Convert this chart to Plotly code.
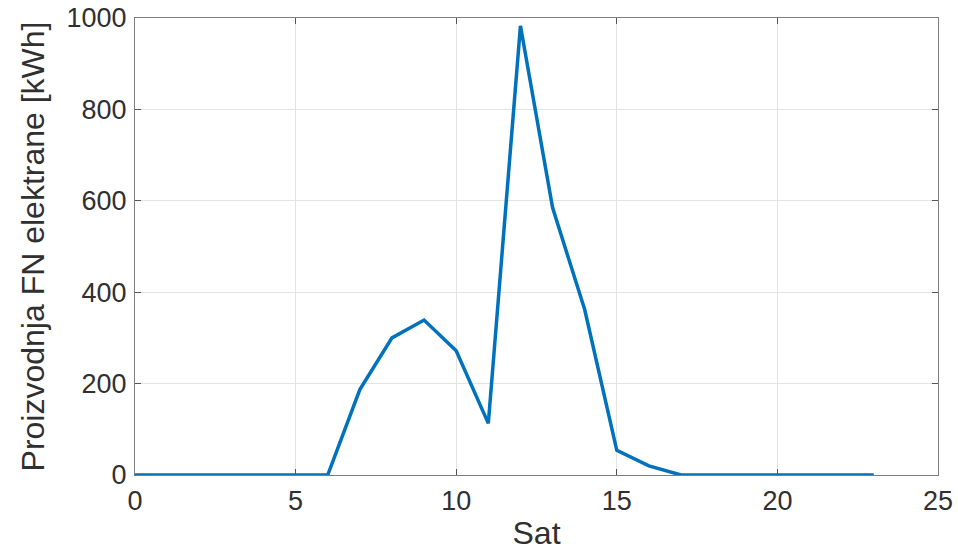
import plotly.graph_objects as go

hours = list(range(24))
production_kwh = [0, 0, 0, 0, 0, 0, 0, 187, 300, 339, 272, 113, 983, 585, 362, 54, 20, 0, 0, 0, 0, 0, 0, 0]
x_ticks = [0, 5, 10, 15, 20, 25]
y_ticks = [0, 200, 400, 600, 800, 1000]

fig = go.Figure()
fig.add_trace(go.Scatter(
    x=hours, y=production_kwh, mode="lines",
    line=dict(color="#0072BD", width=3.5),
    showlegend=False,
))

axis_common = dict(
    showline=True, linecolor="#7f7f7f", linewidth=1, mirror="ticks",
    ticks="inside", ticklen=6, tickcolor="#555555", tickwidth=1,
    showgrid=True, gridcolor="#e3e3e3", gridwidth=1, zeroline=False,
    automargin=False,
    tickfont=dict(family="Liberation Sans, Arial", size=27, color="#303030"),
    title_font=dict(family="Liberation Sans, Arial", size=32, color="#303030"),
)

fig.update_layout(
    width=958, height=557,
    margin=dict(l=135, r=20, t=18, b=82),
    paper_bgcolor="white", plot_bgcolor="white",
    xaxis=dict(range=[0, 25], tickvals=x_ticks, ticklabelstandoff=2,
               title=dict(text="Sat", standoff=6), **axis_common),
    yaxis=dict(range=[0, 1000], tickvals=y_ticks, ticklabelstandoff=2,
               title=dict(text="Proizvodnja FN elektrane [kWh]", standoff=12), **axis_common),
)

fig.write_html("out.html")
